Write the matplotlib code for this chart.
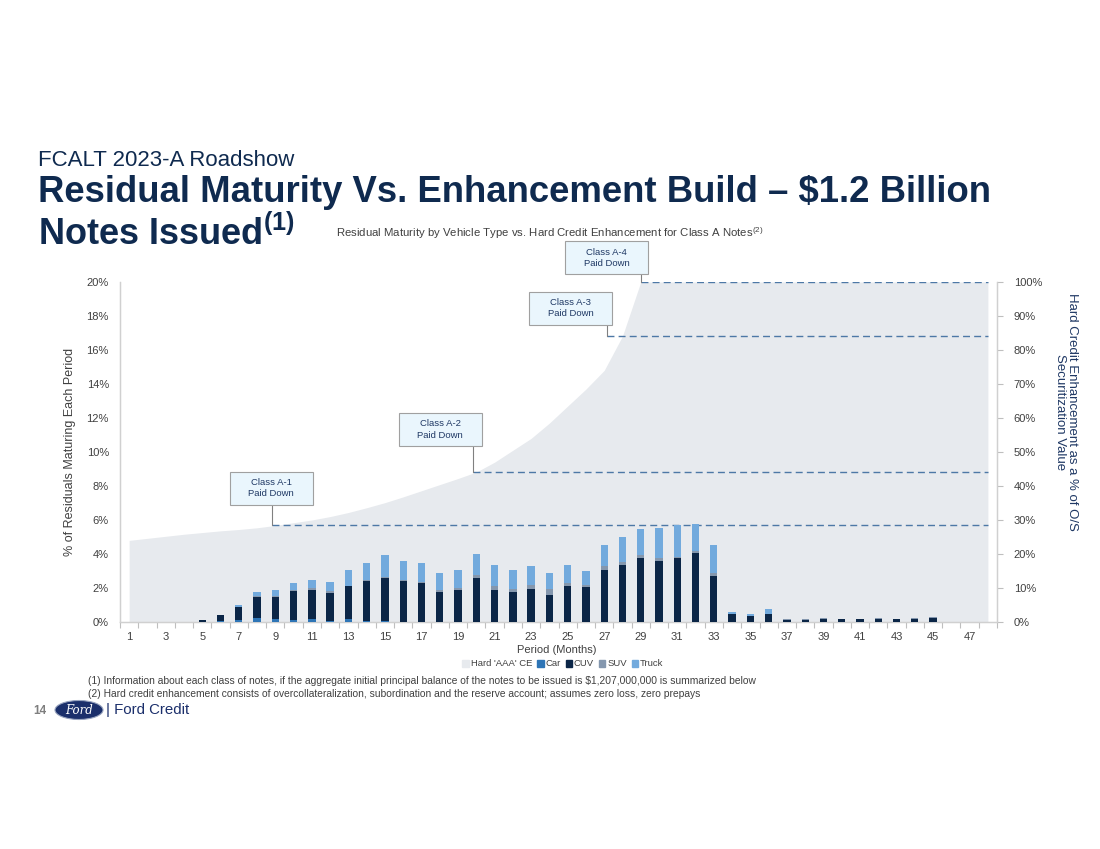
import numpy as np
import matplotlib
matplotlib.use("Agg")
import matplotlib.pyplot as plt
from matplotlib.patches import Patch, Ellipse, Rectangle

plt.rcParams['font.family'] = ['Liberation Sans', 'DejaVu Sans']
plt.rcParams['mathtext.fontset'] = 'custom'
plt.rcParams['mathtext.rm'] = 'Liberation Sans'
plt.rcParams['mathtext.bf'] = 'Liberation Sans:bold'

# Data
periods = list(range(1, 49))
car = [0, 0, 0, 0, 0, 0.08, 0.14, 0.22, 0.16, 0.14, 0.20, 0.08, 0.16, 0.06, 0.06, 0,
       0, 0, 0, 0, 0, 0, 0, 0, 0, 0, 0, 0, 0, 0, 0, 0,
       0, 0, 0, 0, 0, 0, 0, 0, 0, 0, 0, 0, 0, 0, 0, 0]
cuv = [0, 0, 0, 0, 0.14, 0.33, 0.76, 1.22, 1.29, 1.67, 1.69, 1.65, 1.94, 2.33, 2.53, 2.40,
       2.27, 1.78, 1.90, 2.57, 1.90, 1.75, 1.94, 1.57, 2.10, 2.04, 3.08, 3.33, 3.75, 3.59, 3.75, 4.04,
       2.73, 0.45, 0.33, 0.47, 0.14, 0.14, 0.20, 0.18, 0.18, 0.20, 0.18, 0.20, 0.25, 0, 0, 0]
suv = [0, 0, 0, 0, 0, 0, 0, 0.06, 0.10, 0.08, 0.10, 0.12, 0.04, 0.08, 0.08, 0.06,
       0.10, 0.08, 0.10, 0.20, 0.20, 0.18, 0.22, 0.35, 0.22, 0.16, 0.20, 0.18, 0.20, 0.16, 0.10, 0.12,
       0.16, 0, 0.04, 0.02, 0.04, 0.03, 0.02, 0.02, 0.02, 0.05, 0.02, 0.04, 0.04, 0, 0, 0]
truck = [0, 0, 0, 0, 0, 0, 0.12, 0.24, 0.35, 0.41, 0.45, 0.51, 0.90, 1.02, 1.27, 1.12,
         1.08, 1.04, 1.08, 1.24, 1.25, 1.14, 1.14, 0.94, 1.04, 0.82, 1.27, 1.49, 1.53, 1.78, 1.88, 1.63,
         1.61, 0.16, 0.12, 0.25, 0, 0, 0, 0, 0, 0, 0, 0, 0, 0, 0, 0]
hard_ce = [24.0, 24.6, 25.2, 25.8, 26.3, 26.8, 27.2, 27.7, 28.4, 29.2, 30.0, 31.0, 32.2, 33.6, 35.1, 36.8,
           38.6, 40.4, 42.2, 44.1, 47.0, 50.5, 54.0, 58.5, 63.5, 68.5, 74.0, 84.1, 100, 100, 100, 100,
           100, 100, 100, 100, 100, 100, 100, 100, 100, 100, 100, 100, 100, 100, 100, 100]

# callouts: class, period where paid down, CE level, box centre (period, CE %), box bottom
classes = ["Class A-1", "Class A-2", "Class A-3", "Class A-4"]
paydown_period = [8.8, 19.8, 27.15, 29.0]
paydown_level = [28.5, 44.1, 84.1, 100.0]
box_x = [8.78, 18.03, 25.15, 27.12]
box_y = [39.3, 56.6, 92.3, 107.1]

navy = "#0F2A4F"
c_car = "#2E75B6"
c_cuv = "#0B2647"
c_suv = "#8497AE"
c_truck = "#72AADD"
c_area = "#E7EAEE"
c_dash = "#4D78A6"
grey_txt = "#404040"

fig = plt.figure(figsize=(11, 8.49), dpi=100)
fig.patch.set_facecolor("white")

ax = fig.add_axes([0.1091, 0.2674, 0.7973, 0.4005])
ax2 = ax.twinx()
ax.set_zorder(ax2.get_zorder() + 1)
ax.patch.set_visible(False)

# area: hard AAA credit enhancement (right axis)
ax2.fill_between(periods, 0, hard_ce, color=c_area, lw=0, zorder=1)
ax2.set_ylim(0, 100)

# dashed pay-down lines and callout boxes
box_w, box_h = 4.54, 9.7
for name, px, lvl, bx, by in zip(classes, paydown_period, paydown_level, box_x, box_y):
    ax2.plot([px, 48], [lvl, lvl], color=c_dash, lw=1.0, ls=(0, (5, 3)), zorder=3)
    ax2.plot([px, px], [by - box_h / 2, lvl], color="#808080", lw=0.8, zorder=3, clip_on=False)
    ax2.add_patch(Rectangle((bx - box_w / 2, by - box_h / 2), box_w, box_h, fc="#EAF6FD",
                            ec="#A0A0A0", lw=0.8, zorder=4, clip_on=False))
    ax2.text(bx, by, name + "\nPaid Down", ha="center", va="center", fontsize=6.8,
             color="#1F3864", linespacing=1.3, zorder=5, clip_on=False)

# stacked bars (left axis)
car_a = np.array(car)
cuv_a = np.array(cuv)
suv_a = np.array(suv)
truck_a = np.array(truck)
w = 0.4
ax.bar(periods, car_a, w, color=c_car, zorder=3)
ax.bar(periods, cuv_a, w, bottom=car_a, color=c_cuv, zorder=3)
ax.bar(periods, suv_a, w, bottom=car_a + cuv_a, color=c_suv, zorder=3)
ax.bar(periods, truck_a, w, bottom=car_a + cuv_a + suv_a, color=c_truck, zorder=3)
ax.set_ylim(0, 20)
ax.set_xlim(0.5, 48.5)

# axes styling
ax.set_yticks(np.arange(0, 21, 2))
ax.set_yticklabels([f"{v}%" for v in range(0, 21, 2)])
ax2.set_yticks(np.arange(0, 101, 10))
ax2.set_yticklabels([f"{v}%" for v in range(0, 101, 10)])
ax.set_xticks(periods[::2])
ax.set_xticklabels([str(p) for p in periods[::2]])
ax.set_xticks(np.arange(0.5, 49, 1), minor=True)
ax.tick_params(axis="x", which="major", length=0, pad=7, labelsize=8, labelcolor=grey_txt)
ax.tick_params(axis="x", which="minor", length=4, color="#BFBFBF", width=0.8)
ax.tick_params(axis="y", length=0, pad=8, labelsize=8, labelcolor=grey_txt)
ax2.tick_params(axis="y", length=4, pad=8, labelsize=8, labelcolor=grey_txt, color="#BFBFBF")

for a in (ax, ax2):
    a.spines["top"].set_visible(False)
    for s in ("left", "right", "bottom"):
        a.spines[s].set_color("#D0D0D0")
        a.spines[s].set_linewidth(0.9)

fig.text(557 / 1100, 1 - 650 / 849, "Period (Months)", ha="center", va="center",
         fontsize=8, color=grey_txt)
fig.text(70 / 1100, 1 - 452 / 849, "% of Residuals Maturing Each Period", rotation=90,
         ha="center", va="center", fontsize=9, color=grey_txt)
fig.text(1066 / 1100, 1 - 412 / 849, "Hard Credit Enhancement as a % of O/S\nSecuritization Value",
         rotation=270, ha="center", va="center", fontsize=9.5, color="#1F3864", linespacing=1.1)

# legend
handles = [Patch(color=c_area), Patch(color=c_car), Patch(color=c_cuv),
           Patch(color=c_suv), Patch(color=c_truck)]
labels = ["Hard 'AAA' CE", "Car", "CUV", "SUV", "Truck"]
fig.legend(handles, labels, loc="center", bbox_to_anchor=(563 / 1100, 1 - 664 / 849), ncol=5,
           frameon=False, fontsize=6.8, handlelength=0.7, handleheight=0.7,
           handletextpad=0.2, columnspacing=0.5, labelcolor=grey_txt)

# titles
fig.text(38 / 1100, 1 - 166 / 849, "FCALT 2023-A Roadshow", fontsize=16, color=navy, va="baseline")
fig.text(38 / 1100, 1 - 202 / 849, "Residual Maturity Vs. Enhancement Build \u2013 $1.2 Billion",
         fontsize=26.3, fontweight="bold", color=navy, va="baseline")
fig.text(38 / 1100, 1 - 245 / 849, r"Notes Issued$^{\mathbf{(1)}}$",
         fontsize=26, fontweight="bold", color=navy, va="baseline")
fig.text(336 / 1100, 1 - 237 / 849,
         r"Residual Maturity by Vehicle Type vs. Hard Credit Enhancement for Class A Notes$^{(2)}$",
         fontsize=8.2, color=grey_txt, va="baseline")

# footnotes
fig.text(88 / 1100, 1 - 681 / 849,
         "(1) Information about each class of notes, if the aggregate initial principal balance of the "
         "notes to be issued is $1,207,000,000 is summarized below",
         fontsize=7.4, color=grey_txt, va="center")
fig.text(88 / 1100, 1 - 694 / 849,
         "(2) Hard credit enhancement consists of overcollateralization, subordination and the reserve "
         "account; assumes zero loss, zero prepays",
         fontsize=7.4, color=grey_txt, va="center")

# footer: page number and logo
fig.text(33 / 1100, 1 - 711 / 849, "14", fontsize=8.5, fontweight="bold", color="#7F7F7F", va="center")
fig.patches.append(Ellipse((79 / 1100, 1 - 710 / 849), 48 / 1100, 19 / 849,
                           transform=fig.transFigure, fc="#1B2F6B", ec="#9AA5C0", lw=0.8))
fig.text(79 / 1100, 1 - 710 / 849, "Ford", fontsize=8.5, style="italic", color="white",
         family="DejaVu Serif", ha="center", va="center")
fig.text(106 / 1100, 1 - 710 / 849, "| Ford Credit", fontsize=10.8, color="#1B2F6B", va="center")

fig.savefig("out.png", dpi=100, facecolor=fig.get_facecolor())
